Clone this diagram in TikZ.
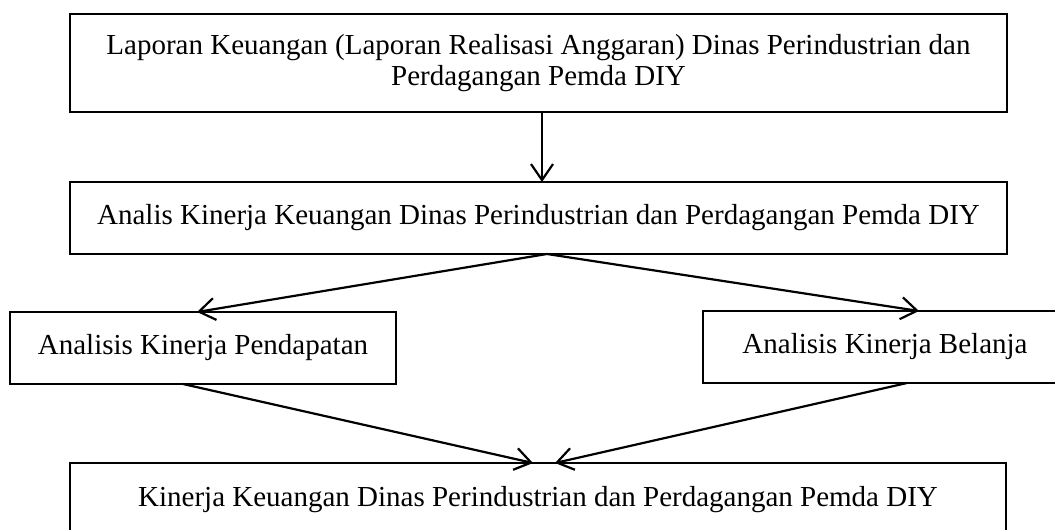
\documentclass[tikz,border=0pt]{standalone}
\usepackage{fontspec}
\setmainfont{Liberation Serif}
\usepackage{tikz}
\usetikzlibrary{arrows.meta}

\tikzset{flow/.style={draw=black,line width=1.1pt,-{Straight Barb[length=8pt,width=11pt]}}}

\begin{document}
\begin{tikzpicture}[x=0.5pt,y=-0.5pt,font=\fontsize{14.5}{15.5}\selectfont]
    \tikzstyle{box}=[draw=black,line width=1.3pt,rectangle,inner sep=2pt,outer sep=0pt,align=center]
    \tikzstyle{wide box}=[box,minimum width=468.5pt,minimum height=36pt]
    \tikzstyle{small box}=[box,minimum height=36pt]

    \useasboundingbox (0,0) rectangle (1055,530);

    % Draw the report node
    \node[wide box,minimum height=49pt] (lap) at (538.5,63)
        {Laporan Keuangan (Laporan Realisasi Anggaran) Dinas Perindustrian dan\\Perdagangan Pemda DIY};

    % Draw the analysis node
    \node[wide box] (analis) at (538.5,218)
        {Analis Kinerja Keuangan Dinas Perindustrian dan Perdagangan Pemda DIY};

    % Draw the two branches
    \node[small box,minimum width=193pt] (pend) at (203,348) {Analisis Kinerja Pendapatan};
    \node[small box,minimum width=182pt] (bel) at (885,347) {Analisis Kinerja Belanja};

    % Draw the result node
    \node[wide box,minimum width=468pt,minimum height=37pt] (kinerja) at (538,500)
        {Kinerja Keuangan Dinas Perindustrian dan Perdagangan Pemda DIY};

    % Connect report with analysis
    \draw[flow] ([xshift=1.75pt]lap.south) -- ([xshift=1.75pt]analis.north);

    % Connect analysis with the branches
    \draw[flow] ([xshift=4.25pt]analis.south) -- ([xshift=-3pt]pend.north);
    \draw[flow] ([xshift=4.25pt]analis.south) -- ([xshift=17pt]bel.north);

    % Connect the branches with the result
    \draw[flow] ([xshift=-10pt]pend.south) -- ([xshift=-2.5pt]kinerja.north);
    \draw[flow] ([xshift=11pt]bel.south) -- ([xshift=8.5pt]kinerja.north);
\end{tikzpicture}
\end{document}
